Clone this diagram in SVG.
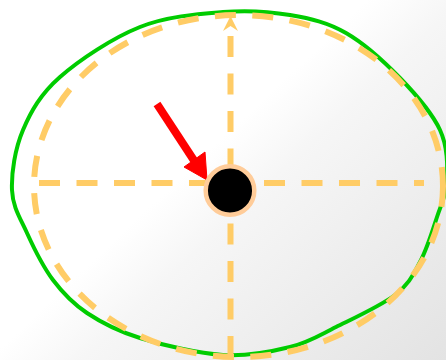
<svg xmlns="http://www.w3.org/2000/svg" width="446" height="360" viewBox="0 0 446 360">
  <defs>
    <linearGradient id="bg" gradientUnits="userSpaceOnUse" x1="200" y1="100" x2="446" y2="360">
      <stop offset="0" stop-color="#ffffff"/>
      <stop offset="0.12" stop-color="#ffffff"/>
      <stop offset="0.3" stop-color="#f6f6f6"/>
      <stop offset="1" stop-color="#e3e3e3"/>
    </linearGradient>
    <marker id="openHead" markerUnits="userSpaceOnUse" viewBox="-15 -15 30 30" markerWidth="30" markerHeight="30" refX="0" refY="0" orient="auto">
      <path d="M10,0 L-5,-7.5 L0,0 L-5,7.5 Z" fill="#FFCC66"/>
    </marker>
  </defs>
  <style>
    .dash { fill: none; stroke: #FFCC66; stroke-width: 6; stroke-dasharray: 21 16.5; }
    .outline { fill: none; stroke: #00CC00; stroke-width: 4; stroke-linejoin: round; }
    .red { stroke: #FF0000; fill: #FF0000; }
  </style>
  <rect x="0" y="0" width="446" height="360" fill="url(#bg)"/>

  <g id="boundary">
    <path class="outline" d="M223,12 C248,10 269.5,11.5 290,15 C310.5,18.5 327.7,22.5 346,33 C364.3,43.5 384.3,61.8 400,78 C415.7,94.2 432.2,113 440,130 C447.8,147 447.5,165.5 447,180 C446.5,194.5 441.5,203.3 437,217 C432.5,230.7 427,249 420,262 C413,275 409,284.2 395,295 C381,305.8 353.5,318.3 336,327 C318.5,335.7 308.8,342.3 290,347 C271.2,351.7 248,356.5 223,355 C198,353.5 162.7,345 140,338 C117.3,331 101.5,322.7 87,313 C72.5,303.3 63,293.3 53,280 C43,266.7 33.8,248 27,233 C20.2,218 12.7,207.2 12,190 C11.3,172.8 15,148.8 23,130 C31,111.2 40.5,94.2 60,77 C79.5,59.8 112.8,37.8 140,27 C167.2,16.2 198,14 223,12 Z"/>
  </g>

  <g id="ellipse">
    <ellipse class="dash" cx="238.5" cy="186" rx="204.5" ry="171"/>
  </g>

  <g id="connectors">
    <line class="dash" x1="39" y1="183" x2="424" y2="183"/>
    <line class="dash" x1="230.5" y1="357" x2="230.5" y2="26" marker-end="url(#openHead)"/>
    <line class="red" x1="157" y1="104" x2="195" y2="162" stroke-width="8"/>
    <polygon class="red" points="207,180 184,167 205,152"/>
  </g>

  <g id="center">
    <circle cx="230" cy="190.5" r="24.3" fill="#000000" stroke="#FFCC99" stroke-width="4.5"/>
  </g>
</svg>
